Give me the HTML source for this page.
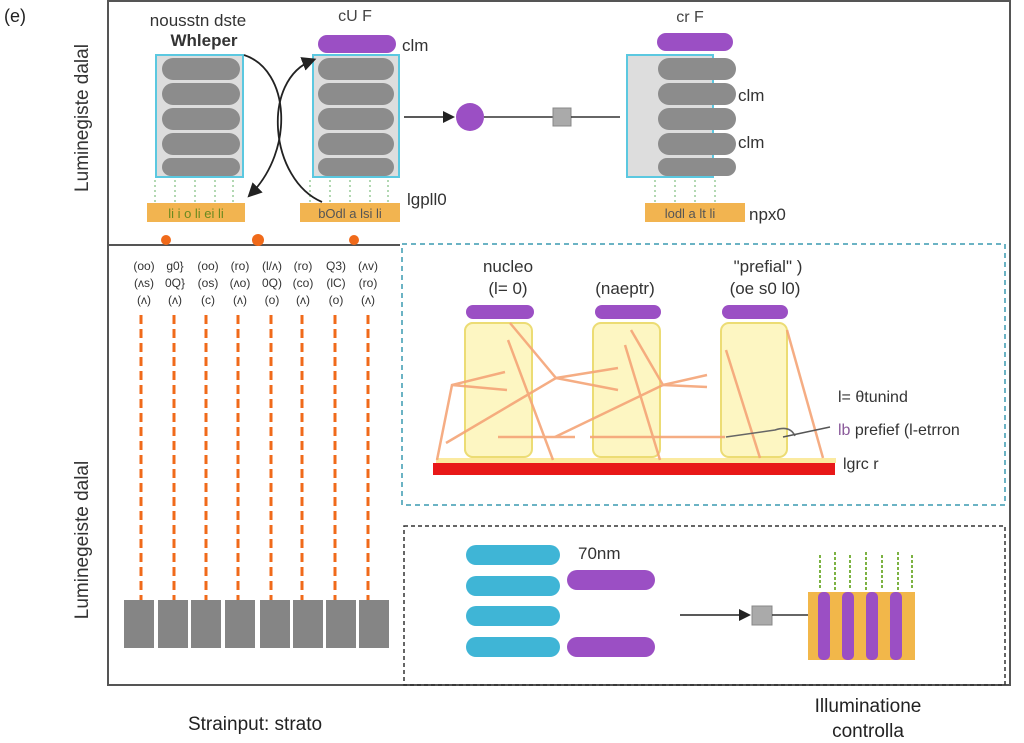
<!DOCTYPE html>
<html><head><meta charset="utf-8"><style>
body{margin:0;background:#fff;}
svg{display:block;font-family:"Liberation Sans",sans-serif;}
</style></head><body>
<svg width="1024" height="743" viewBox="0 0 1024 743" xmlns="http://www.w3.org/2000/svg">
<defs>
<marker id="ah" markerWidth="8" markerHeight="8" refX="6" refY="4" orient="auto"><path d="M0,0 L8,4 L0,8 z" fill="#222"/></marker>
</defs>
<text x="4" y="22" font-size="18" fill="#222">(e)</text>
<!-- frame -->
<rect x="108" y="1" width="902" height="684" fill="none" stroke="#555" stroke-width="2"/>
<line x1="108" y1="245" x2="400" y2="245" stroke="#555" stroke-width="2"/>
<rect x="402" y="244" width="603" height="261" fill="none" stroke="#3a9ab0" stroke-width="1.5" stroke-dasharray="5,4"/>
<rect x="404" y="526" width="601" height="159" fill="none" stroke="#333" stroke-width="1.5" stroke-dasharray="4,3"/>

<text transform="translate(88,118) rotate(-90)" text-anchor="middle" font-size="19" fill="#333">Luminegiste dalal</text>
<text transform="translate(88,540) rotate(-90)" text-anchor="middle" font-size="19" fill="#333">Luminegeiste dalal</text>

<!-- top left stack -->
<text x="198" y="26" text-anchor="middle" font-size="17" fill="#333">nousstn dste</text>
<text x="204" y="46" text-anchor="middle" font-size="17" font-weight="bold" fill="#333">Whleper</text>
<rect x="156" y="55" width="87" height="122" fill="#ddd" stroke="#5bc8e0" stroke-width="2"/>
<g fill="#8c8c8c">
<rect x="162" y="58" width="78" height="22" rx="11"/><rect x="162" y="83" width="78" height="22" rx="11"/><rect x="162" y="108" width="78" height="22" rx="11"/><rect x="162" y="133" width="78" height="22" rx="11"/><rect x="162" y="158" width="78" height="18" rx="9"/>
</g>
<rect x="147" y="203" width="98" height="19" fill="#f2b450"/>
<text x="196" y="218" text-anchor="middle" font-size="13" fill="#6a8a20">li i o li ei li</text>

<!-- middle stack -->
<text x="355" y="21" text-anchor="middle" font-size="16" fill="#444">cU F</text>
<rect x="318" y="35" width="78" height="18" rx="9" fill="#9b4fc4"/>
<text x="402" y="51" font-size="17" fill="#333">clm</text>
<rect x="313" y="55" width="86" height="122" fill="#ddd" stroke="#5bc8e0" stroke-width="2"/>
<g fill="#8c8c8c">
<rect x="318" y="58" width="76" height="22" rx="11"/><rect x="318" y="83" width="76" height="22" rx="11"/><rect x="318" y="108" width="76" height="22" rx="11"/><rect x="318" y="133" width="76" height="22" rx="11"/><rect x="318" y="158" width="76" height="18" rx="9"/>
</g>
<rect x="300" y="203" width="100" height="19" fill="#f2b450"/>
<text x="350" y="218" text-anchor="middle" font-size="13" fill="#555">bOdl a lsi li</text>
<text x="407" y="205" font-size="17" fill="#333">lgpll0</text>
<g stroke="#9c9" stroke-dasharray="2,3" stroke-width="1.5">
<line x1="155" y1="180" x2="155" y2="203"/><line x1="175" y1="180" x2="175" y2="203"/><line x1="195" y1="180" x2="195" y2="203"/><line x1="215" y1="180" x2="215" y2="203"/><line x1="233" y1="180" x2="233" y2="203"/>
<line x1="310" y1="180" x2="310" y2="203"/><line x1="330" y1="180" x2="330" y2="203"/><line x1="350" y1="180" x2="350" y2="203"/><line x1="370" y1="180" x2="370" y2="203"/><line x1="388" y1="180" x2="388" y2="203"/>
<line x1="655" y1="180" x2="655" y2="203"/><line x1="675" y1="180" x2="675" y2="203"/><line x1="695" y1="180" x2="695" y2="203"/><line x1="715" y1="180" x2="715" y2="203"/>
</g>
<path d="M244,55 C290,70 295,150 250,195" fill="none" stroke="#222" stroke-width="1.8" marker-end="url(#ah)"/>
<path d="M322,202 C270,180 260,80 313,60" fill="none" stroke="#222" stroke-width="1.8" marker-end="url(#ah)"/>
<g fill="#f06a1a"><circle cx="166" cy="240" r="5"/><circle cx="258" cy="240" r="6"/><circle cx="354" cy="240" r="5"/></g>

<!-- right flow -->
<line x1="404" y1="117" x2="452" y2="117" stroke="#222" stroke-width="1.5" marker-end="url(#ah)"/>
<circle cx="470" cy="117" r="14" fill="#9b4fc4"/>
<line x1="484" y1="117" x2="553" y2="117" stroke="#333" stroke-width="1.5"/>
<rect x="553" y="108" width="18" height="18" fill="#aaa" stroke="#888"/>
<line x1="571" y1="117" x2="620" y2="117" stroke="#333" stroke-width="1.5"/>
<text x="690" y="22" text-anchor="middle" font-size="16" fill="#444">cr F</text>
<rect x="657" y="33" width="76" height="18" rx="9" fill="#9b4fc4"/>
<rect x="627" y="55" width="86" height="122" fill="#ddd" stroke="#5bc8e0" stroke-width="2"/>
<g fill="#8c8c8c">
<rect x="658" y="58" width="78" height="22" rx="11"/><rect x="658" y="83" width="78" height="22" rx="11"/><rect x="658" y="108" width="78" height="22" rx="11"/><rect x="658" y="133" width="78" height="22" rx="11"/><rect x="658" y="158" width="78" height="18" rx="9"/>
</g>
<text x="738" y="101" font-size="17" fill="#333">clm</text>
<text x="738" y="148" font-size="17" fill="#333">clm</text>
<rect x="645" y="203" width="100" height="19" fill="#f2b450"/>
<text x="690" y="218" text-anchor="middle" font-size="13" fill="#555">lodl a lt li</text>
<text x="749" y="220" font-size="17" fill="#333">npx0</text>

<!-- bottom-left columns -->
<g font-size="12" fill="#333" text-anchor="middle">
<text x="144" y="270">(oo)</text><text x="175" y="270">g0}</text><text x="208" y="270">(oo)</text><text x="240" y="270">(ro)</text><text x="272" y="270">(l/ʌ)</text><text x="303" y="270">(ro)</text><text x="336" y="270">Q3)</text><text x="368" y="270">(ʌv)</text>
<text x="144" y="287">(ʌs)</text><text x="175" y="287">0Q}</text><text x="208" y="287">(os)</text><text x="240" y="287">(ʌo)</text><text x="272" y="287">0Q)</text><text x="303" y="287">(co)</text><text x="336" y="287">(lC)</text><text x="368" y="287">(ro)</text>
<text x="144" y="304">(ʌ)</text><text x="175" y="304">(ʌ)</text><text x="208" y="304">(c)</text><text x="240" y="304">(ʌ)</text><text x="272" y="304">(o)</text><text x="303" y="304">(ʌ)</text><text x="336" y="304">(o)</text><text x="368" y="304">(ʌ)</text>
</g>
<g stroke="#f06a1a" stroke-width="3" stroke-dasharray="9,5">
<line x1="141" y1="315" x2="141" y2="600"/><line x1="174" y1="315" x2="174" y2="600"/><line x1="206" y1="315" x2="206" y2="600"/><line x1="238" y1="315" x2="238" y2="600"/><line x1="271" y1="315" x2="271" y2="600"/><line x1="302" y1="315" x2="302" y2="600"/><line x1="335" y1="315" x2="335" y2="600"/><line x1="368" y1="315" x2="368" y2="600"/>
</g>
<g fill="#858585">
<rect x="124" y="600" width="30" height="48"/><rect x="158" y="600" width="30" height="48"/><rect x="191" y="600" width="30" height="48"/><rect x="225" y="600" width="30" height="48"/><rect x="260" y="600" width="30" height="48"/><rect x="293" y="600" width="30" height="48"/><rect x="326" y="600" width="30" height="48"/><rect x="359" y="600" width="30" height="48"/>
</g>

<!-- blue box -->
<g font-size="17" fill="#333" text-anchor="middle">
<text x="508" y="272">nucleo</text><text x="508" y="294">(l= 0)</text>
<text x="625" y="294">(naeptr)</text>
<text x="768" y="272">"prefial" )</text><text x="765" y="294">(oe s0 l0)</text>
</g>
<g fill="#9b4fc4"><rect x="466" y="305" width="68" height="14" rx="7"/><rect x="595" y="305" width="66" height="14" rx="7"/><rect x="722" y="305" width="66" height="14" rx="7"/></g>
<g fill="#fdf6c3" stroke="#eedd70" stroke-width="2"><rect x="455" y="323" width="30" height="0"/>
<rect x="455" y="323" width="57" height="0"/></g>
<g fill="#fdf6c2" stroke="#ecdc74" stroke-width="2">
<rect x="455" y="323" width="56" height="134" rx="8" transform="translate(10,0)"/>
<rect x="593" y="323" width="67" height="134" rx="8"/>
<rect x="721" y="323" width="66" height="134" rx="8"/>
<rect x="465" y="323" width="67" height="134" rx="8"/>
</g>
<rect x="436" y="458" width="400" height="5" fill="#fbeaa0"/>
<rect x="433" y="463" width="402" height="12" fill="#e81818"/>
<g stroke="#f5a577" stroke-width="2.5" fill="none" opacity="0.9">
<path d="M437,460 L452,385 L505,372"/><path d="M452,385 L507,390"/>
<path d="M508,340 L553,460"/><path d="M510,323 L556,378 L618,368"/><path d="M556,378 L618,390"/>
<path d="M446,443 L556,378"/><path d="M498,437 L575,437"/>
<path d="M625,345 L660,460"/><path d="M631,330 L663,385 L707,375"/><path d="M663,385 L707,387"/>
<path d="M590,437 L725,437"/><path d="M555,437 L663,385"/>
<path d="M726,350 L760,458"/><path d="M787,330 L823,458"/>
</g>
<path d="M726,437 L775,430 Q790,425 795,436" fill="none" stroke="#666" stroke-width="1.5"/>
<path d="M783,437 L830,427" stroke="#555" stroke-width="1.5"/>
<g font-size="16" fill="#333">
<text x="838" y="402">l= θtunind</text>
<text x="838" y="435"><tspan fill="#8a5a9a">lb</tspan> prefief  (l-etrron</text>
<text x="843" y="469">lgrc r</text>
</g>

<!-- bottom box -->
<g fill="#3fb5d6">
<rect x="466" y="545" width="94" height="20" rx="10"/><rect x="466" y="576" width="94" height="20" rx="10"/><rect x="466" y="606" width="94" height="20" rx="10"/><rect x="466" y="637" width="94" height="20" rx="10"/>
</g>
<g fill="#9b4fc4"><rect x="567" y="570" width="88" height="20" rx="10"/><rect x="567" y="637" width="88" height="20" rx="10"/></g>
<text x="578" y="559" font-size="17" fill="#333">70nm</text>
<line x1="680" y1="615" x2="748" y2="615" stroke="#222" stroke-width="1.5" marker-end="url(#ah)"/>
<rect x="752" y="606" width="20" height="19" fill="#aaa" stroke="#888"/>
<line x1="772" y1="615" x2="808" y2="615" stroke="#333" stroke-width="1.5"/>
<rect x="808" y="592" width="107" height="68" fill="#f2b74a"/>
<g fill="#9b4fc4">
<rect x="818" y="592" width="12" height="68" rx="5"/><rect x="842" y="592" width="12" height="68" rx="5"/><rect x="866" y="592" width="12" height="68" rx="5"/><rect x="890" y="592" width="12" height="68" rx="5"/>
</g>
<g stroke="#7cb342" stroke-width="2" stroke-dasharray="3,2">
<line x1="820" y1="555" x2="820" y2="590"/><line x1="835" y1="552" x2="835" y2="590"/><line x1="850" y1="555" x2="850" y2="590"/><line x1="866" y1="552" x2="866" y2="590"/><line x1="882" y1="555" x2="882" y2="590"/><line x1="898" y1="552" x2="898" y2="590"/><line x1="912" y1="555" x2="912" y2="590"/>
</g>

<text x="255" y="730" text-anchor="middle" font-size="19" fill="#222">Strainput: strato</text>
<text x="868" y="712" text-anchor="middle" font-size="19" fill="#222">Illuminatione</text>
<text x="868" y="737" text-anchor="middle" font-size="19" fill="#222">controlla</text>
</svg>
</body></html>
